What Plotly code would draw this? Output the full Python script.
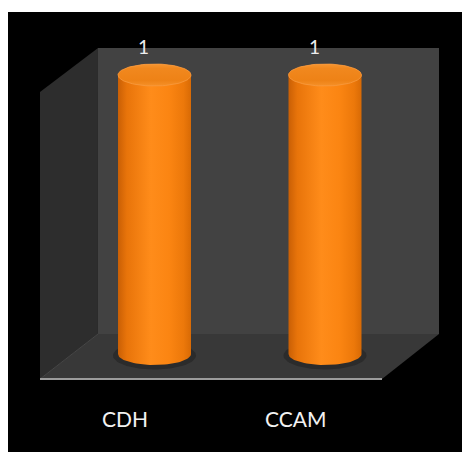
import numpy as np
import plotly.graph_objects as go

# ---- data ----
categories = ["CDH", "CCAM"]
values = [1, 1]
value_labels = ["1", "1"]

# ---- layout constants (pixels) ----
W, H = 462, 452
X0_PX, X_PPU = 154.5, 170.5      # pixel of first category, pixels per category
Y0_PX, Y_PPU = 354.0, 279.0      # pixel of value 0, pixels per unit
xmin = -X0_PX / X_PPU
xmax = xmin + W / X_PPU
ymin = -(H - Y0_PX) / Y_PPU
ymax = ymin + H / Y_PPU

half_w = 36.5 / X_PPU            # cylinder half width in data units
ry = 11.0 / Y_PPU                # ellipse half height in data units


def P(px, py):
    return px / W, 1 - py / H


def path(pts):
    s = ""
    for k, (px, py) in enumerate(pts):
        x, y = P(px, py)
        s += ("M" if k == 0 else "L") + f"{x:.5f},{y:.5f} "
    return s + "Z"


shapes = []
bx0, by0 = P(8, 12)
bx1, by1 = P(462, 452)
shapes.append(dict(type="rect", xref="paper", yref="paper", x0=bx0, y0=by1, x1=bx1, y1=by0,
                   fillcolor="#000000", line_width=0, layer="below"))
# left wall
shapes.append(dict(type="path", xref="paper", yref="paper",
                   path=path([(40, 92), (98, 48), (98, 334), (40, 379)]),
                   fillcolor="#2d2d2d", line_width=0, layer="below"))
# back wall
shapes.append(dict(type="path", xref="paper", yref="paper",
                   path=path([(98, 48), (439, 48), (439, 334), (98, 334)]),
                   fillcolor="#424242", line_width=0, layer="below"))
# floor
shapes.append(dict(type="path", xref="paper", yref="paper",
                   path=path([(98, 334), (439, 334), (382, 379), (40, 379)]),
                   fillcolor="#383838", line_width=0, layer="below"))
# floor diagonal edge
lx0, ly0 = P(40, 379)
lx1, ly1 = P(98, 334)
shapes.append(dict(type="line", xref="paper", yref="paper", x0=lx0, y0=ly0, x1=lx1, y1=ly1,
                   line=dict(color="#474747", width=1), layer="below"))
# front edge
fx0, fy0 = P(40, 379)
fx1, fy1 = P(382, 379)
shapes.append(dict(type="line", xref="paper", yref="paper", x0=fx0, y0=fy0, x1=fx1, y1=fy1,
                   line=dict(color="#9c9c9c", width=2), layer="below"))

fig = go.Figure()

t_bot = np.linspace(np.pi, 2 * np.pi, 40)
t_top = np.linspace(0, np.pi, 40)
t_full = np.linspace(0, 2 * np.pi, 80)

# soft shadows
for i, v in enumerate(values):
    a = half_w + 5 / X_PPU
    b = ry + 3 / Y_PPU
    cy = -1.5 / Y_PPU
    fig.add_trace(go.Scatter(x=i + a * np.cos(t_full), y=cy + b * np.sin(t_full),
                             mode="lines", fill="toself", fillcolor="#2b2b2b",
                             line=dict(width=0), hoverinfo="skip", showlegend=False))

# cylinder bodies
body_scale = [[0.0, "#c95f05"], [0.12, "#e8740a"], [0.45, "#ff8c1a"],
              [0.7, "#fb8512"], [0.9, "#ec780a"], [1.0, "#d86a05"]]
for i, v in enumerate(values):
    xs = np.concatenate([i + half_w * np.cos(t_bot), i + half_w * np.cos(t_top)])
    ys = np.concatenate([ry * np.sin(t_bot), v + ry * np.sin(t_top)])
    fig.add_trace(go.Scatter(x=xs, y=ys, mode="lines", fill="toself",
                             fillgradient=dict(type="horizontal", colorscale=body_scale),
                             line=dict(width=0), hoverinfo="skip", showlegend=False))

# top ellipses
top_scale = [[0.0, "#f59028"], [0.25, "#ee8216"], [0.8, "#f1881e"], [1.0, "#f69530"]]
for i, v in enumerate(values):
    fig.add_trace(go.Scatter(x=i + half_w * np.cos(t_full), y=v + ry * np.sin(t_full),
                             mode="lines", fill="toself",
                             fillgradient=dict(type="vertical", colorscale=top_scale),
                             line=dict(width=0.8, color="#f79a40"),
                             hoverinfo="skip", showlegend=False))

annotations = []
for i, (v, lab) in enumerate(zip(values, value_labels)):
    annotations.append(dict(x=i, y=v, xref="x", yref="y", text=lab, showarrow=False,
                            xshift=-11, yshift=29,
                            font=dict(family="Lato", size=19, color="#eeeeee")))
for i, c in enumerate(categories):
    annotations.append(dict(x=i, y=1 - 418 / H, xref="x", yref="paper", text=c,
                            showarrow=False, xshift=-30, yanchor="middle",
                            font=dict(family="Lato", size=21, color="#f2f2f2")))

fig.update_layout(
    width=W, height=H,
    margin=dict(l=0, r=0, t=0, b=0),
    paper_bgcolor="#ffffff", plot_bgcolor="rgba(0,0,0,0)",
    xaxis=dict(range=[xmin, xmax], visible=False, fixedrange=True),
    yaxis=dict(range=[ymin, ymax], visible=False, fixedrange=True),
    shapes=shapes, annotations=annotations, showlegend=False,
)

fig.write_html("out.html")
